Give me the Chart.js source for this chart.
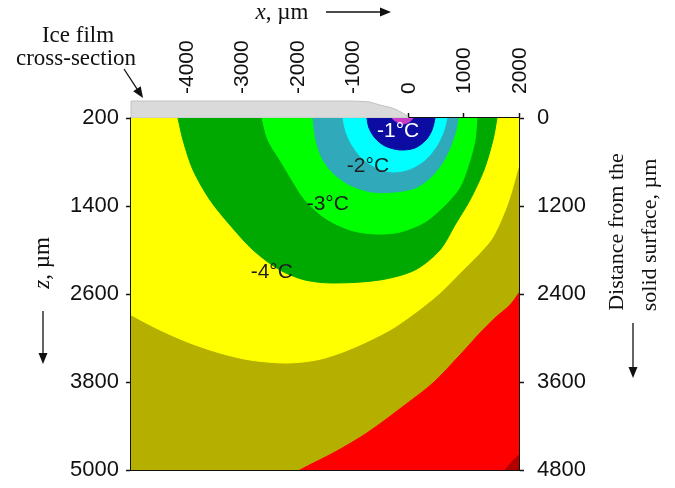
<!DOCTYPE html>
<html>
<head>
<meta charset="utf-8">
<title>Temperature field under the ice film</title>
<script src="https://cdn.jsdelivr.net/npm/chart.js@4.4.1/dist/chart.umd.min.js"></script>
<style>
  html, body { margin: 0; padding: 0; background: #fff; }
  canvas { display: block; }
</style>
</head>
<body>
<canvas id="campo" width="675" height="488"></canvas>
<script>
// --- AXES (µm) ---
const xTicks = [-4000, -3000, -2000, -1000, 0, 1000, 2000];
const zTicks = [200, 1400, 2600, 3800, 5000];
const depthTicks = [0, 1200, 2400, 3600, 4800];

// --- ISOTHERM OUTLINES, [x, z] in µm (ends run past the frame so the curves meet the edges cleanly) ---
const magentaEdge = [[-320, 100], [-292, 200], [-201, 255], [-93, 282], [15, 255], [87, 200], [110, 100]];
const blueEdge = [[-760, 100], [-743, 200], [-706, 336], [-598, 473], [-418, 582], [-147, 636], [123, 609],
  [322, 500], [430, 364], [484, 200], [495, 100]];
const cyanEdge = [[-1190, 100], [-1176, 200], [-1121, 391], [-1013, 568], [-833, 745], [-562, 882], [-274, 936],
  [33, 895], [304, 773], [502, 595], [628, 405], [701, 200], [710, 100]];
const tealEdge = [[-1730, 100], [-1717, 200], [-1663, 500], [-1554, 745], [-1356, 950], [-1049, 1114], [-652, 1209],
  [-238, 1209], [123, 1155], [394, 1018], [593, 841], [755, 609], [863, 364], [899, 200], [905, 100]];
const limeEdge = [[-2670, 100], [-2637, 200], [-2529, 500], [-2312, 773], [-2096, 1045], [-1861, 1318], [-1500, 1564],
  [-1049, 1727], [-598, 1782], [-147, 1755], [304, 1618], [665, 1386], [935, 1141], [1116, 773], [1206, 500],
  [1242, 200], [1250, 100]];
const greenEdge = [[-4180, 100], [-4152, 200], [-4062, 500], [-3881, 909], [-3575, 1318], [-3214, 1659], [-2799, 2000],
  [-2312, 2273], [-1861, 2409], [-1356, 2450], [-508, 2409], [123, 2273], [574, 2000], [845, 1659], [1116, 1318],
  [1368, 909], [1530, 500], [1603, 200], [1620, 100]];
const yellowEdge = [[2160, 440], [2000, 841], [1801, 1359], [1530, 1823], [1260, 2068], [989, 2273], [574, 2586],
  [123, 2859], [-328, 3091], [-995, 3336], [-1590, 3490], [-2186, 3541], [-2853, 3500], [-3394, 3405],
  [-3936, 3268], [-4477, 3091], [-5000, 2886], [-5500, 2690], [-5500, 0], [2300, 0]];
const redEdge = [[2250, 2336], [2000, 2586], [1837, 2750], [1567, 2927], [1296, 3132], [935, 3432], [448, 3814],
  [-57, 4114], [-743, 4495], [-1320, 4755], [-1951, 5000], [-2500, 5250], [2600, 5500], [2600, 2336]];
const darkRedEdge = [[1600, 5150], [1747, 5000], [1880, 4880], [2000, 4795], [2150, 4700], [2600, 4700], [2600, 5300]];
const oliveField = [[-5500, 0], [2600, 0], [2600, 5500], [-5500, 5500]];

// ice film profile above the surface
const iceFilm = [[-5000, 200], [-5000, -32], [-1000, -32], [-700, -20], [-508, 23], [-300, 60], [-201, 91],
  [-90, 135], [-21, 170], [0, 200]];

// isotherm labels
const isoText = ['-1°C', '-2°C', '-3°C', '-4°C'];
const isoX = [-180, -725, -1450, -2460];
const isoZ = [375, 855, 1375, 2300];

const SANS = "'Liberation Sans', Arial, sans-serif";
const SERIF = "'Liberation Serif', 'Times New Roman', serif";

// top of the list is drawn last (on top)
const zonas = [
  { pts: magentaEdge, cor: '#c83cc8' },
  { pts: blueEdge, cor: '#0c0ca2' },
  { pts: cyanEdge, cor: '#00ffff' },
  { pts: tealEdge, cor: '#30a9bb' },
  { pts: limeEdge, cor: '#00ff00' },
  { pts: greenEdge, cor: '#00a900' },
  { pts: yellowEdge, cor: '#ffff00' },
  { pts: darkRedEdge, cor: '#b00000', tension: 0 },
  { pts: redEdge, cor: '#ff0000' },
  { pts: oliveField, cor: '#b5b000', tension: 0 }
];

function seta(ctx, x1, y1, x2, y2) {
  const ang = Math.atan2(y2 - y1, x2 - x1);
  ctx.beginPath();
  ctx.moveTo(x1, y1);
  ctx.lineTo(x2 - 8 * Math.cos(ang), y2 - 8 * Math.sin(ang));
  ctx.stroke();
  ctx.save();
  ctx.translate(x2, y2);
  ctx.rotate(ang);
  ctx.beginPath();
  ctx.moveTo(0, 0);
  ctx.lineTo(-11, -4.5);
  ctx.lineTo(-11, 4.5);
  ctx.closePath();
  ctx.fill();
  ctx.restore();
}

// text made of pieces with different fonts (italic variable + units), centered on x
function textoMisto(ctx, partes, x, y) {
  const larguras = partes.map(([t, f]) => { ctx.font = f; return ctx.measureText(t).width; });
  let cx = x - larguras.reduce((a, b) => a + b, 0) / 2;
  ctx.textAlign = 'left';
  partes.forEach(([t, f], i) => { ctx.font = f; ctx.fillText(t, cx, y); cx += larguras[i]; });
}

const decoracao = {
  id: 'decoracao',
  beforeDatasetsDraw(chart) {
    const { ctx, scales: { x, y } } = chart;
    ctx.save();
    ctx.beginPath();
    iceFilm.forEach(([fx, fz], i) => {
      const px = x.getPixelForValue(fx), py = y.getPixelForValue(fz);
      if (i) ctx.lineTo(px, py); else ctx.moveTo(px, py);
    });
    ctx.closePath();
    ctx.fillStyle = '#dadada';
    ctx.fill();
    ctx.strokeStyle = '#c2c2c2';
    ctx.lineWidth = 1;
    ctx.stroke();
    ctx.restore();
  },
  afterDatasetsDraw(chart) {
    const { ctx, scales: { x, y } } = chart;
    ctx.save();
    ctx.font = `21px ${SANS}`;
    ctx.textAlign = 'center';
    ctx.textBaseline = 'middle';
    isoText.forEach((t, i) => {
      ctx.fillStyle = i === 0 ? '#ffffff' : '#1e1e1e';
      ctx.fillText(t, x.getPixelForValue(isoX[i]), y.getPixelForValue(isoZ[i]));
    });
    ctx.restore();
  },
  afterDraw(chart) {
    const { ctx } = chart;
    ctx.save();
    ctx.fillStyle = '#111';
    ctx.strokeStyle = '#111';
    ctx.lineWidth = 1.3;
    ctx.textBaseline = 'alphabetic';

    // x axis title
    textoMisto(ctx, [['x', `italic 23px ${SERIF}`], [', µm', `23px ${SERIF}`]], 282, 19);
    seta(ctx, 326, 12, 391, 12);

    // ice film note
    ctx.font = `23px ${SERIF}`;
    ctx.textAlign = 'center';
    ctx.fillText('Ice film', 78, 42);
    ctx.fillText('cross-section', 76, 65);
    seta(ctx, 124, 69, 143, 98);

    // z axis title
    ctx.save();
    ctx.translate(43, 263);
    ctx.rotate(-Math.PI / 2);
    ctx.textBaseline = 'middle';
    textoMisto(ctx, [['z', `italic 23px ${SERIF}`], [', µm', `23px ${SERIF}`]], 0, 0);
    ctx.restore();
    seta(ctx, 43, 311, 43, 364);

    // depth axis title
    ctx.save();
    ctx.font = `22px ${SERIF}`;
    ctx.textAlign = 'center';
    ctx.textBaseline = 'middle';
    ctx.translate(617, 232);
    ctx.rotate(-Math.PI / 2);
    ctx.fillText('Distance from the', 0, 0);
    ctx.fillText('solid surface, µm', -3, 33);
    ctx.restore();
    seta(ctx, 633, 323, 633, 378);
    ctx.restore();
  }
};

// vertical axes must not push the plot frame inward
const semMargem = s => { s.paddingTop = 0; s.paddingBottom = 0; };

const eixoBase = {
  type: 'linear',
  z: 1,
  border: { display: true, color: '#111', width: 2 },
  grid: { drawOnChartArea: false, tickLength: 5, color: '#111', tickWidth: 1.5 }
};

new Chart(document.getElementById('campo'), {
  type: 'scatter',
  data: {
    datasets: zonas.map(z => ({
      data: z.pts.map(([x, y]) => ({ x, y })),
      showLine: true,
      fill: 'shape',
      tension: z.tension ?? 0.3,
      backgroundColor: z.cor,
      borderColor: z.cor,
      borderWidth: 1,
      pointRadius: 0,
      pointHoverRadius: 0
    }))
  },
  options: {
    responsive: false,
    animation: false,
    devicePixelRatio: 1,
    events: [],
    layout: { padding: 0 },
    plugins: { legend: { display: false }, tooltip: { enabled: false } },
    scales: {
      x: {
        ...eixoBase,
        position: 'top',
        min: -5000,
        max: 2000,
        afterBuildTicks: s => { s.ticks = xTicks.map(v => ({ value: v })); },
        afterFit: s => { s.height = 118; s.paddingLeft = 0; s.paddingRight = 0; },
        ticks: { autoSkip: false, minRotation: 90, maxRotation: 90, padding: 19, labelOffset: 26, color: '#111',
          font: { family: SANS, size: 21 }, callback: v => String(v) }
      },
      x2: {
        ...eixoBase,
        position: 'bottom',
        min: -5000,
        max: 2000,
        afterFit: s => { s.height = 18; s.paddingLeft = 0; s.paddingRight = 0; },
        grid: { drawOnChartArea: false, drawTicks: false },
        ticks: { display: false }
      },
      y: {
        ...eixoBase,
        position: 'left',
        reverse: true,
        min: 200,
        max: 5000,
        afterBuildTicks: s => { s.ticks = zTicks.map(v => ({ value: v })); },
        afterFit: s => { s.width = 131; semMargem(s); },
        ticks: { padding: 7, color: '#111', font: { family: SANS, size: 22 }, callback: v => String(v) }
      },
      y2: {
        ...eixoBase,
        position: 'right',
        reverse: true,
        min: 0,
        max: 4800,
        afterBuildTicks: s => { s.ticks = depthTicks.map(v => ({ value: v })); },
        afterFit: s => { s.width = 156; semMargem(s); },
        ticks: { padding: 13, color: '#111', font: { family: SANS, size: 22 }, callback: v => String(v) }
      }
    }
  },
  plugins: [decoracao]
});
</script>
</body>
</html>
